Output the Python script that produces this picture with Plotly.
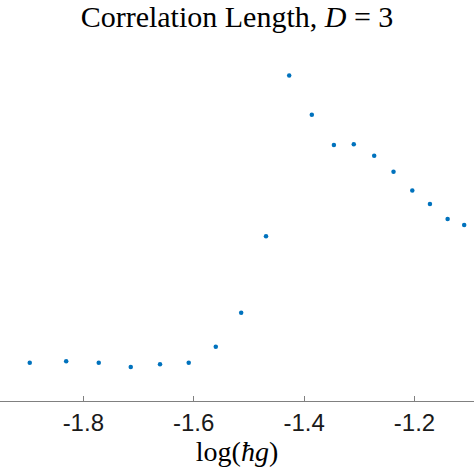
import plotly.graph_objects as go

# data
log_hg = [-1.897, -1.831, -1.772, -1.714, -1.661, -1.609, -1.560, -1.514, -1.469,
          -1.427, -1.386, -1.346, -1.310, -1.273, -1.238, -1.204, -1.172, -1.140, -1.110]
corr_length = [1.045, 1.083, 1.045, 0.928, 1.001, 1.045, 1.482, 2.409, 4.502,
               8.895, 7.823, 6.993, 7.012, 6.704, 6.267, 5.749, 5.383, 4.974, 4.810]
tick_vals = [-1.8, -1.6, -1.4, -1.2]
tick_text = ["-1.8", "-1.6", "-1.4", "-1.2"]

fig = go.Figure()
fig.add_trace(go.Scatter(
    x=log_hg, y=corr_length, mode="markers",
    marker=dict(color="#0072BD", size=4.5),
    showlegend=False
))

fig.update_layout(
    width=474, height=474,
    margin=dict(l=0, r=0, t=35, b=73),
    paper_bgcolor="white", plot_bgcolor="white",
    title=dict(
        text="Correlation Length, <i>D</i> = 3",
        x=0.5, xanchor="center", y=1 - 16 / 474, yanchor="middle",
        font=dict(family="Liberation Serif", size=30, color="black")
    ),
    xaxis=dict(
        range=[-1.9509, -1.0922],
        tickvals=tick_vals, ticktext=tick_text,
        ticks="inside", ticklen=5, tickcolor="#808080", tickwidth=1,
        showline=True, linecolor="#808080", linewidth=1,
        showgrid=False, zeroline=False,
        tickfont=dict(family="Liberation Sans", size=24, color="#1a1a1a"),
        title=dict(text="log(<i>ħg</i>)", standoff=2,
                   font=dict(family="Liberation Serif", size=28, color="black"))
    ),
    yaxis=dict(range=[0, 10], visible=False)
)

# drop the page's default body margin so the figure sits at the window corner
fig.write_html("out.html", config={"displayModeBar": False},
               post_script="document.body.style.margin='0';")
